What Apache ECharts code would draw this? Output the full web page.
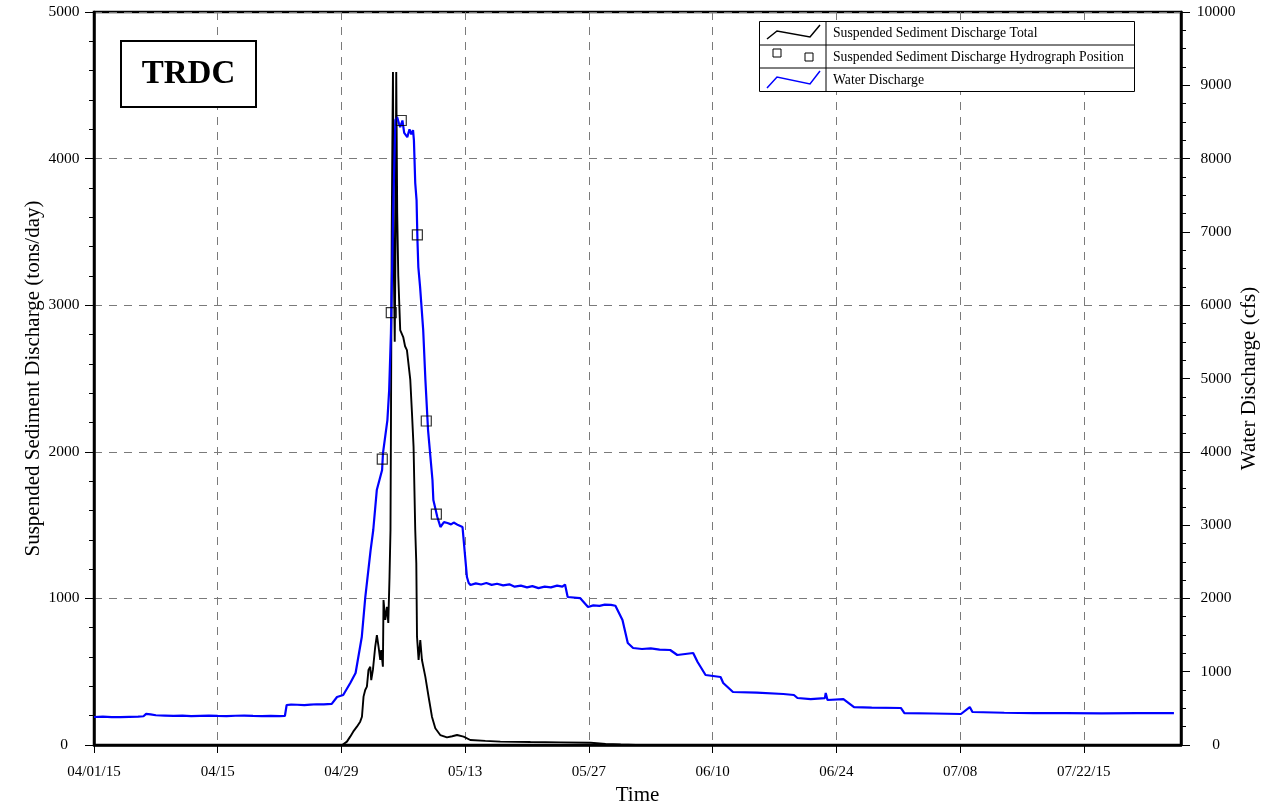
<!DOCTYPE html>
<html>
<head>
<meta charset="utf-8">
<title>TRDC suspended sediment and water discharge</title>
<script src="https://cdn.jsdelivr.net/npm/echarts@6/dist/echarts.min.js"></script>
<style>
  html, body { margin: 0; padding: 0; background: #fff; }
  #chart { width: 1286px; height: 812px; }
</style>
</head>
<body>
<div id="chart"></div>
<script>
// Time is counted in days since 04/01/15 00:00.
const xTickLabels = ['04/01/15', '04/15', '04/29', '05/13', '05/27', '06/10', '06/24', '07/08', '07/22/15'];

// Water discharge (cfs), right axis
const flowDay = [
  0, 1, 2, 3, 4, 5, 5.6, 5.9, 6.4, 7, 8, 9, 10, 11, 12, 13, 14, 15, 16, 17, 18, 19, 20, 21, 21.6,
  21.8, 22.3, 23, 23.8, 24.5, 25.2, 26, 26.9,
  27.5, 28.2, 29.0, 29.6, 30.3, 30.7, 31.3, 31.6, 32.0, 32.6, 32.7, 33.2, 33.4, 33.6, 33.85,
  34.1, 34.3, 34.5, 34.65, 34.9, 35.1, 35.45, 35.7, 35.9, 36.1, 36.2, 36.35, 36.5, 36.6, 36.7,
  36.9, 37.25, 37.5, 37.8, 38.3, 38.4, 38.85, 39.2, 39.6, 40.0, 40.4, 40.7, 41.2, 41.7, 41.8,
  42.2, 42.4,
  42.6, 43.2, 43.8, 44.4, 45, 45.6, 46.3, 47, 47.6, 48.3, 49, 49.6, 50.3, 51, 51.7, 52.4, 53, 53.3,
  53.6, 55.0, 55.9, 56.5, 57.2, 57.8, 58.5, 59.0, 59.8, 60.4, 61.0, 62, 63, 64, 65.2,
  66.0, 67.8, 68.3, 69.2, 70.9, 71.2, 72.3, 75, 78.0, 79.2, 79.6, 81.1, 82.7, 82.8, 83.0,
  84.8, 86.0, 88, 91.3, 91.7, 95, 98.1, 99.1, 99.4, 103, 106.3, 110, 114, 118, 122.2];
const flowCfs = [
  382, 386, 381, 379, 384, 388, 392, 425, 418, 406, 402, 398, 400, 395, 398, 401, 396, 393, 399, 401, 396, 393, 398, 395, 396,
  546, 552, 549, 545, 551, 556, 553, 560,
  655, 682, 846, 982, 1473, 2019, 2660, 2933, 3478, 3751, 3983, 4433, 4842, 5620, 7256,
  8525, 8566, 8480, 8430, 8520, 8350, 8293, 8400, 8330, 8389, 8252, 7666, 7434, 6888, 6520,
  6247, 5661, 4979, 4297, 3615, 3342, 3110, 2974, 3040, 3028, 3010, 3035, 3000, 2974, 2837,
  2292, 2210,
  2182, 2205, 2190, 2210, 2185, 2200, 2178, 2192, 2160, 2175, 2150, 2168, 2140, 2160, 2150, 2175, 2160, 2190,
  2019, 2005, 1882, 1905, 1898, 1915, 1912, 1900, 1705, 1391, 1323, 1310, 1318, 1302, 1296,
  1228, 1255, 1132, 955, 928, 846, 723, 715, 696, 682, 641, 627, 640, 710, 614,
  627, 518, 510, 505, 436, 430, 423, 518, 450, 440, 436, 436, 432, 436, 436];

// Suspended sediment discharge total (tons/day), left axis
const sedDay = [28.09, 28.62, 28.99, 29.33, 29.75, 30.12, 30.32, 30.5, 30.69, 30.88,
  31.06, 31.26, 31.37, 31.56, 31.82, 32.01, 32.2, 32.39, 32.5, 32.69,
  32.76, 32.96, 33.15, 33.3, 33.44, 33.55, 33.6, 33.69, 33.76, 33.83,
  33.92, 34.03, 34.13, 34.2, 34.31, 34.43, 34.65, 34.99, 35.2, 35.41,
  35.79, 35.98, 36.16, 36.35, 36.47, 36.55, 36.73, 36.92, 37.11, 37.49,
  37.86, 38.24, 38.62, 39.18, 39.94, 40.54, 41.08, 41.82, 42.58, 44.28,
  45.98, 49.38, 52.8, 56.2, 57.9, 59.6, 61.3];
const sedTons = [0, 23, 57, 91, 125, 159, 193, 330, 375, 398,
  512, 534, 443, 512, 670, 750, 670, 580, 648, 534,
  989, 853, 943, 832, 1148, 1467, 2149, 3500, 4100, 4590,
  3300, 2750, 3500, 4590, 3630, 3200, 2830, 2783, 2720, 2694,
  2490, 2265, 2035, 1467, 1241, 739, 580, 716, 580, 466,
  329, 193, 114, 68, 52, 60, 68, 57, 34, 28,
  23, 20, 18, 15, 8, 3, 0];

// Sediment samples placed on the hydrograph (tons/day)
const hydroDay = [32.62, 33.64, 34.77, 36.59, 37.6, 38.74];
const hydroTons = [1950, 2950, 4260, 3480, 2210, 1575];

const zip = (xs, ys) => xs.slice(0, Math.min(xs.length, ys.length)).map((x, i) => [x, ys[i]]);

const serif = "'Liberation Serif', 'DejaVu Serif', serif";
const gridDash = { color: '#7a7a7a', width: 1, type: [8, 7] };
const plainNumber = v => String(v);

const chart = echarts.init(document.getElementById('chart'), null, { renderer: 'canvas' });

const legendRows = [
  'Suspended Sediment Discharge Total',
  'Suspended Sediment Discharge Hydrograph Position',
  'Water Discharge'
];
const legendFont = "13.7px 'Liberation Serif', serif";
const TOP = 100;

chart.setOption({
  animation: false,
  backgroundColor: '#ffffff',
  textStyle: { fontFamily: serif },
  grid: {
    left: 94, right: 105, top: 12, bottom: 67,
    show: true, borderColor: '#000', borderWidth: 2.5, backgroundColor: 'transparent'
  },
  xAxis: {
    type: 'value', min: 0, max: 123, interval: 14,
    name: 'Time', nameLocation: 'middle', nameGap: 37,
    nameTextStyle: { fontFamily: serif, fontSize: 21, color: '#000' },
    axisLine: { show: true, onZero: false, lineStyle: { color: '#000', width: 2.5 } },
    axisTick: { show: true, inside: false, length: 8, lineStyle: { color: '#000', width: 1 } },
    axisLabel: {
      fontFamily: serif, fontSize: 15, color: '#000', margin: 20, showMaxLabel: false,
      formatter: v => {
        const i = v / 14;
        return Number.isInteger(i) && i < xTickLabels.length ? xTickLabels[i] : '';
      }
    },
    splitLine: { show: true, lineStyle: gridDash }
  },
  yAxis: [
    {
      type: 'value', min: 0, max: 5000, interval: 1000, position: 'left',
      name: 'Suspended Sediment Discharge (tons/day)', nameLocation: 'middle', nameGap: 50,
      nameRotate: 90, nameMoveOverlap: false,
      nameTextStyle: { fontFamily: serif, fontSize: 21, color: '#000' },
      axisLine: { show: true, lineStyle: { color: '#000', width: 2.5 } },
      axisTick: { show: true, inside: false, length: 9, lineStyle: { color: '#000', width: 1 } },
      minorTick: { show: true, splitNumber: 5, length: 5, lineStyle: { color: '#000', width: 1 } },
      axisLabel: { fontFamily: serif, fontSize: 15.5, color: '#000', margin: 30, align: 'center', formatter: plainNumber },
      splitLine: { show: true, lineStyle: gridDash }
    },
    {
      type: 'value', min: 0, max: 10000, interval: 1000, position: 'right',
      name: 'Water Discharge (cfs)', nameLocation: 'middle', nameGap: 58,
      nameRotate: 90, nameMoveOverlap: false,
      nameTextStyle: { fontFamily: serif, fontSize: 21, color: '#000' },
      axisLine: { show: true, lineStyle: { color: '#000', width: 2.5 } },
      axisTick: { show: true, inside: false, length: 9, lineStyle: { color: '#000', width: 1 } },
      minorTick: { show: true, splitNumber: 4, length: 5, lineStyle: { color: '#000', width: 1 } },
      axisLabel: { fontFamily: serif, fontSize: 15.5, color: '#000', margin: 35, align: 'center', formatter: plainNumber },
      splitLine: { show: false }
    }
  ],
  series: [
    {
      name: legendRows[0], type: 'line', yAxisIndex: 0, data: zip(sedDay, sedTons),
      showSymbol: false, symbol: 'none', z: 3,
      lineStyle: { color: '#000', width: 1.9 }
    },
    {
      name: legendRows[2], type: 'line', yAxisIndex: 1, data: zip(flowDay, flowCfs),
      showSymbol: false, symbol: 'none', z: 4,
      lineStyle: { color: '#0000ff', width: 2.2 }
    },
    {
      name: legendRows[1], type: 'scatter', yAxisIndex: 0, data: zip(hydroDay, hydroTons),
      symbol: 'rect', symbolSize: 10, z: 5,
      itemStyle: { color: 'rgba(255,255,255,0)', borderColor: '#000', borderWidth: 1.2 }
    }
  ],
  graphic: [
    // station label box
    {
      type: 'group', left: 120, top: 40, z: TOP,
      children: [
        { type: 'rect', z: TOP, shape: { x: 0, y: 0, width: 135, height: 66 },
          style: { fill: '#fff', stroke: '#000', lineWidth: 2 } },
        { type: 'text', z: TOP + 1, x: 67.5, y: 33,
          style: { text: 'TRDC', font: "bold 33px 'Liberation Serif', serif", fill: '#000',
                   align: 'center', verticalAlign: 'middle' } }
      ]
    },
    // boxed legend table
    {
      type: 'group', left: 757, top: 19, z: TOP,
      children: [
        { type: 'rect', z: TOP, shape: { x: 0.5, y: 0.5, width: 375, height: 70 },
          style: { fill: '#fff', stroke: '#000', lineWidth: 1 } },
        { type: 'line', z: TOP + 1, shape: { x1: 0.5, y1: 24, x2: 375.5, y2: 24 }, style: { stroke: '#000', lineWidth: 1 } },
        { type: 'line', z: TOP + 1, shape: { x1: 0.5, y1: 47, x2: 375.5, y2: 47 }, style: { stroke: '#000', lineWidth: 1 } },
        { type: 'line', z: TOP + 1, shape: { x1: 67, y1: 0.5, x2: 67, y2: 70.5 }, style: { stroke: '#000', lineWidth: 1 } },
        { type: 'polyline', z: TOP + 1, shape: { points: [[8, 18], [18, 10], [51, 16], [61, 4]] },
          style: { stroke: '#000', lineWidth: 1.5, fill: null } },
        { type: 'rect', z: TOP + 1, shape: { x: 14, y: 28, width: 8, height: 8 },
          style: { fill: '#fff', stroke: '#000', lineWidth: 1 } },
        { type: 'rect', z: TOP + 1, shape: { x: 46, y: 32, width: 8, height: 8 },
          style: { fill: '#fff', stroke: '#000', lineWidth: 1 } },
        { type: 'polyline', z: TOP + 1, shape: { points: [[8, 67], [18, 56], [51, 63], [61, 50]] },
          style: { stroke: '#0000ff', lineWidth: 1.5, fill: null } },
        { type: 'text', z: TOP + 1, x: 74, y: 12.5,
          style: { text: legendRows[0], font: legendFont, fill: '#000', verticalAlign: 'middle' } },
        { type: 'text', z: TOP + 1, x: 74, y: 36,
          style: { text: legendRows[1], font: legendFont, fill: '#000', verticalAlign: 'middle' } },
        { type: 'text', z: TOP + 1, x: 74, y: 59,
          style: { text: legendRows[2], font: legendFont, fill: '#000', verticalAlign: 'middle' } }
      ]
    }
  ]
});
</script>
</body>
</html>
